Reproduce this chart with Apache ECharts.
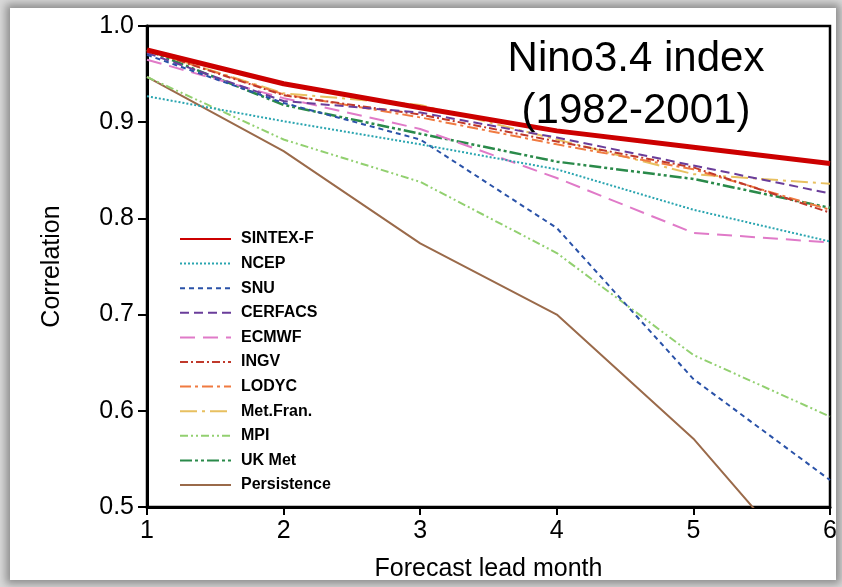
<!DOCTYPE html>
<html>
<head>
<meta charset="utf-8">
<script src="https://cdn.jsdelivr.net/npm/echarts@6/dist/echarts.min.js"></script>
<style>
  html, body { margin: 0; padding: 0; width: 842px; height: 587px; overflow: hidden; background: #d9d9d9; }
  #card { position: absolute; left: 10px; top: 8px; width: 826px; height: 572px; background: #fff;
          box-shadow: 0 0 8px 4px rgba(0,0,0,0.35); }
  #chart { position: absolute; left: 0; top: 0; width: 842px; height: 587px; }
</style>
</head>
<body>
<div id="card"></div>
<div id="chart"></div>
<script>
const leadMonths = [1, 2, 3, 4, 5, 6];
const yTicks = [0.5, 0.6, 0.7, 0.8, 0.9, 1.0];
const xTicks = [1, 2, 3, 4, 5, 6];

const sintexF     = [0.975, 0.940, 0.915, 0.891, 0.874, 0.857];
const ncep        = [0.927, 0.901, 0.877, 0.851, 0.809, 0.776];
const snu         = [0.970, 0.920, 0.882, 0.790, 0.633, 0.528];
const cerfacs     = [0.972, 0.922, 0.910, 0.884, 0.855, 0.826];
const ecmwf       = [0.965, 0.925, 0.893, 0.842, 0.785, 0.775];
const ingv        = [0.975, 0.928, 0.908, 0.880, 0.853, 0.806];
const lodyc       = [0.975, 0.929, 0.905, 0.877, 0.851, 0.809];
const metFran     = [0.975, 0.930, 0.918, 0.882, 0.846, 0.836];
const mpi         = [0.947, 0.882, 0.838, 0.764, 0.658, 0.594];
const ukMet       = [0.975, 0.918, 0.888, 0.859, 0.841, 0.811];
const persistence = [0.947, 0.870, 0.774, 0.700, 0.571, 0.407];

const seriesDefs = [
  { name: 'SINTEX-F',    data: sintexF,     color: '#cc0000', width: 5,   type: 'solid' },
  { name: 'NCEP',        data: ncep,        color: '#2aa5b0', width: 2,   type: [2, 2] },
  { name: 'SNU',         data: snu,         color: '#2a52a8', width: 2,   type: [5, 4] },
  { name: 'CERFACS',     data: cerfacs,     color: '#6a3d9a', width: 2,   type: [9, 5] },
  { name: 'ECMWF',       data: ecmwf,       color: '#e07ac8', width: 2,   type: [15, 8] },
  { name: 'INGV',        data: ingv,        color: '#c0392b', width: 2,   type: [8, 3, 2, 3] },
  { name: 'LODYC',       data: lodyc,       color: '#f07a40', width: 2,   type: [11, 4, 3, 4] },
  { name: 'Met.Fran.',   data: metFran,     color: '#e8c060', width: 2,   type: [17, 5, 3, 5] },
  { name: 'MPI',         data: mpi,         color: '#92d070', width: 2,   type: [8, 3, 2, 3, 2, 3] },
  { name: 'UK Met',      data: ukMet,       color: '#2a8a4a', width: 2.5, type: [12, 3, 3, 3, 3, 3] },
  { name: 'Persistence', data: persistence, color: '#9a6a4a', width: 2,   type: 'solid' }
];

const chart = echarts.init(document.getElementById('chart'), null, { renderer: 'canvas' });
const FONT = 'Liberation Sans, Arial, sans-serif';

chart.setOption({
  backgroundColor: 'transparent',
  animation: false,
  title: {
    text: 'Nino3.4 index\n(1982-2001)',
    left: 631, top: 28,
    textAlign: 'center',
    textStyle: { fontFamily: FONT, fontSize: 42, fontWeight: 'normal', color: '#000', lineHeight: 52 }
  },
  legend: {
    orient: 'vertical',
    left: 179, top: 231, padding: 0,
    itemWidth: 51, itemHeight: 14, itemGap: 8.6,
    itemStyle: { opacity: 0 },
    textStyle: { fontFamily: FONT, fontSize: 16, fontWeight: 'bold', color: '#000', padding: [0, 0, 0, 5] },
    data: seriesDefs.map(s => s.name)
  },
  grid: {
    left: 147, right: 12, top: 26, bottom: 79,
    show: true, borderColor: '#000', borderWidth: 2.5, backgroundColor: 'transparent'
  },
  xAxis: {
    type: 'value', min: 1, max: 6, interval: 1,
    name: 'Forecast lead month', nameLocation: 'middle', nameGap: 50,
    nameTextStyle: { fontFamily: FONT, fontSize: 25, color: '#000' },
    axisLine: { show: true, lineStyle: { color: '#000', width: 3 } },
    axisTick: { show: true, inside: false, length: 8, lineStyle: { color: '#000', width: 2 } },
    axisLabel: { fontFamily: FONT, fontSize: 25, color: '#000', margin: 12,
                 formatter: v => xTicks.includes(v) ? String(v) : '' },
    splitLine: { show: false }
  },
  yAxis: {
    type: 'value', min: 0.5, max: 1.0, interval: 0.1,
    name: 'Correlation', nameLocation: 'middle', nameGap: 82, nameRotate: 90,
    nameTextStyle: { fontFamily: FONT, fontSize: 25, color: '#000' },
    axisLine: { show: true, lineStyle: { color: '#000', width: 3 } },
    axisTick: { show: true, inside: false, length: 9, lineStyle: { color: '#000', width: 2 } },
    axisLabel: { fontFamily: FONT, fontSize: 25, color: '#000', margin: 13,
                 formatter: v => { const t = yTicks.find(y => Math.abs(y - v) < 1e-6); return t !== undefined ? t.toFixed(1) : ''; } },
    splitLine: { show: false }
  },
  series: seriesDefs.slice().reverse().map(s => ({
    name: s.name,
    type: 'line',
    data: leadMonths.map((m, i) => [m, s.data[i]]),
    showSymbol: false,
    symbol: 'none',
    clip: true,
    color: s.color,
    lineStyle: { color: s.color, width: s.width, type: s.type },
    z: s.name === 'SINTEX-F' ? 5 : 2
  }))
});
</script>
</body>
</html>
